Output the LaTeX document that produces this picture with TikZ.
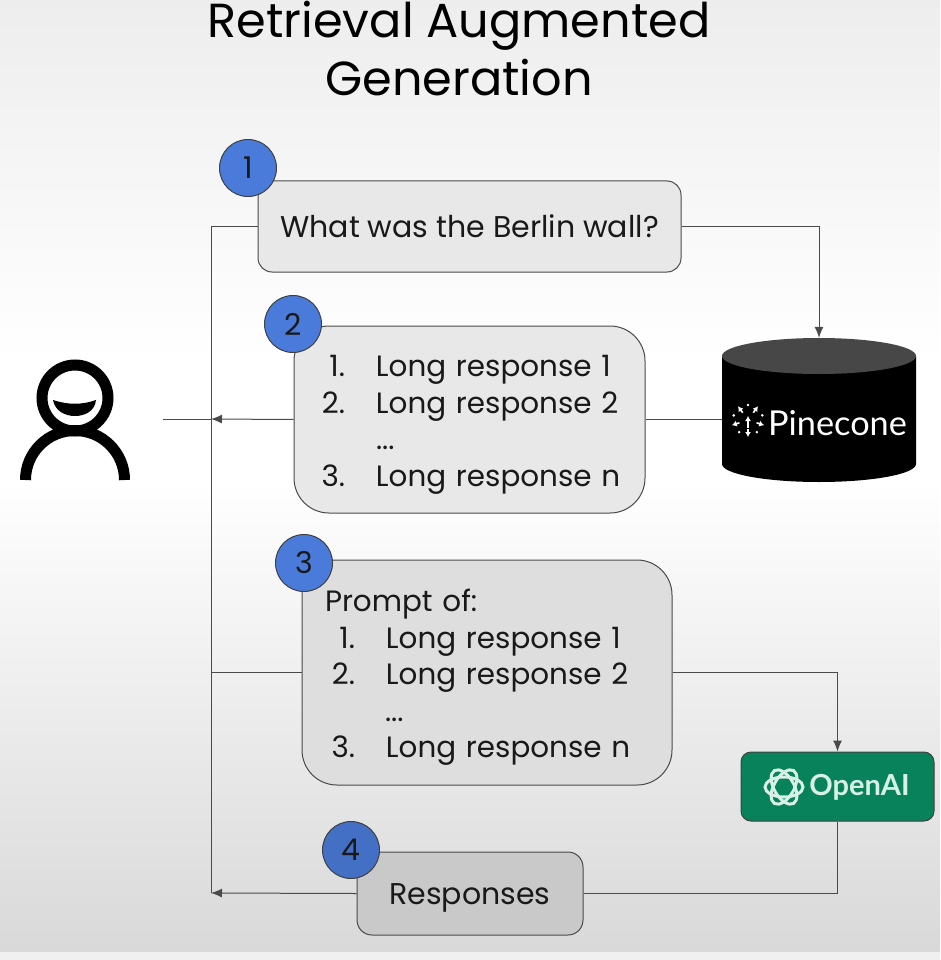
\documentclass[tikz,border=0pt]{standalone}
\usepackage{fontspec}
\setmainfont{Poppins}
\newfontfamily\logofont{Lato}
\usetikzlibrary{arrows.meta,positioning}
\definecolor{wirecolor}{HTML}{4A4A4A}
\definecolor{badgeblue}{HTML}{4A7BDB}
\definecolor{openaigreen}{HTML}{07825A}
\definecolor{logomint}{HTML}{D8F0E6}
\newcommand{\listline}[2]{\mbox{\makebox[25pt][r]{#1}\hspace{31pt}#2}}
\begin{document}
\begin{tikzpicture}[
    x=1pt, y=-1pt,
    every node/.style={font=\fontsize{30}{36.5}\selectfont, inner sep=0pt, text=black!90},
    stepbox/.style={draw=wirecolor, line width=1pt, align=left, fill=gray!18},
    listbox/.style={stepbox, rounded corners=35pt, font=\fontsize{29.4}{36.5}\selectfont},
    badge/.style={draw=black!75, line width=1pt, circle, minimum size=57pt, fill=badgeblue},
    wire/.style={draw=wirecolor, line width=1pt},
    flow/.style={wire, -{Latex[length=11pt, width=9pt]}}
]
\useasboundingbox (0,0) rectangle (940,960);
\shade[top color=gray!14, bottom color=white] (0,0) rectangle (940,360);
\fill[white] (0,360) rectangle (940,480);
\shade[top color=white, bottom color=gray!30] (0,480) rectangle (940,952);
\fill[gray!12] (0,952) rectangle (940,960);
\node[font=\fontsize{47.8}{58}\selectfont, align=center, text=black] (title) at (459,49) {Retrieval Augmented\\Generation};
\node[stepbox, rounded corners=14pt, minimum width=423pt, minimum height=91pt] (question) at (469.5,226.5) {What was the Berlin wall?};
\node[listbox, minimum width=351pt, minimum height=187pt, text width=299pt] (retrieved) at (469.5,419.5) {\rule{0pt}{32pt}\listline{1.}{Long response 1}\\\listline{2.}{Long response 2}\\\hspace*{56pt}...\\\listline{3.}{Long response n}};
\node[listbox, minimum width=370pt, minimum height=225pt, text width=324pt, fill=gray!26] (prompt) at (487,672.5) {\rule{0pt}{32pt}Prompt of:\\\hspace*{5pt}\listline{1.}{Long response 1}\\\hspace*{5pt}\listline{2.}{Long response 2}\\\hspace*{60pt}...\\\hspace*{5pt}\listline{3.}{Long response n}};
\node[stepbox, rounded corners=15pt, minimum width=226pt, minimum height=83pt, fill=gray!42] (responses) at (470,893.5) {\rule{0pt}{30pt}Responses};
\node[minimum width=194pt, minimum height=144pt] (pinecone) at (819,410) {};
\fill[black] (722,356) -- (722,464) arc[start angle=180, end angle=0, x radius=97, y radius=18] -- (916,356) -- cycle;
\fill[black!72] (819,356) ellipse[x radius=97, y radius=18];
\node[font=\logofont\fontsize{34.3}{34}\selectfont, text=white] (pineconetext) at (837.5,423) {Pinecone};
\node[draw=black!75, line width=1pt, rounded corners=10pt, minimum width=193pt, minimum height=69pt, fill=openaigreen] (openai) at (837.5,786.5) {};
\node[font=\logofont\bfseries\fontsize{29}{30}\selectfont, text=logomint] (openaitext) at (859.5,787) {OpenAI};
\node[badge] (one) at (248,168) {1};
\node[badge] (two) at (293,324) {2};
\node[badge] (three) at (304,563) {3};
\node[badge, fill=badgeblue!90!black] (four) at (351,850) {4};
\coordinate (busend) at (211,893);
\coordinate (busmid) at (211,419);
\coordinate (userend) at (163,419);
\draw[wire] (question.west) -| (busend);
\draw[flow] (question.east) -| (pinecone.north);
\draw[flow] (retrieved.west) -- (busmid);
\draw[wire] (userend) -- (busmid);
\draw[wire] (retrieved.east) -- (retrieved.east -| pinecone.west);
\draw[wire] (prompt.west) -- (prompt.west -| busend);
\draw[flow] (prompt.east) -| (openai.north);
\draw[wire] (openai.south) |- (responses.east);
\draw[flow] (responses.west) -- (busend);
\node[draw=black, line width=11pt, circle, minimum size=66pt] (head) at (75,398) {};
\draw[black, line width=11pt] (25.5,480) arc[start angle=180, end angle=360, radius=49.5];
\fill[black] (53,400) .. controls (68,405) and (82,405) .. (96,400) .. controls (95,411) and (85,416) .. (75,416) .. controls (65,416) and (55,411) .. (53,400) -- cycle;
\foreach \a in {18,90,162,234,306} {
  \draw[white, line width=1.6pt, -{Latex[length=5pt, width=6pt]}] ([shift={(\a:9)}]748,420) -- ([shift={(\a:17)}]748,420);
}
\foreach \a in {54,126,198,270,342} {
  \fill[white] ([shift={(\a:15)}]748,420) circle[radius=1.4];
}
\draw[white, line width=1.6pt, -{Latex[length=5pt, width=6pt]}] (748,428) -- (748,416);
\foreach \a in {0,60,120} {
  \draw[logomint, line width=3pt, rotate around={\a:(784,787)}] (784,787) ellipse[x radius=19, y radius=10];
}
\end{tikzpicture}
\end{document}
